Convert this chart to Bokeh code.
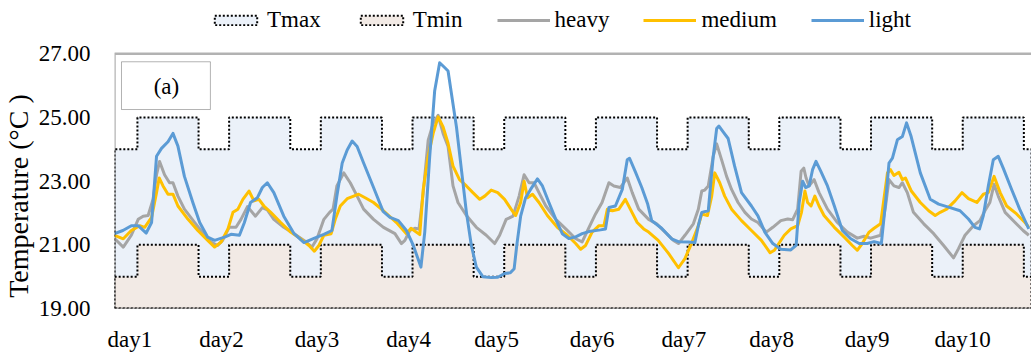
import math
from bokeh.plotting import figure
from bokeh.layouts import row
from bokeh.models import (Range1d, FixedTicker, PrintfTickFormatter, Legend,
                          BoxAnnotation, Label)
from bokeh.embed import file_html
from bokeh.resources import INLINE

# ---------------- data ----------------
day_labels = ["day1", "day2", "day3", "day4", "day5",
              "day6", "day7", "day8", "day9", "day10"]
day_label_hours = [4, 28, 53, 77, 100, 125, 149, 172, 197, 222]

# setpoint schedule (hours of day, levels)
sched_segments = [(0, 6), (6, 22), (22, 24)]
tmax_levels = [24, 25, 24]
tmin_levels = [20, 21, 20]
n_days = 10

heavy_h = [0, 2.3, 4.4, 6.2, 7.5, 8.8, 10.1, 11.0, 11.8, 13.1, 14.4, 15.3, 16.6, 18.3, 21.0, 23.6,
           25.3, 27.0, 28.3, 30.0, 31.8, 33.1, 34.8, 36.9, 38.7, 40.0, 41.7, 44.3, 47.0, 49.6,
           51.7, 53.0, 54.8, 56.3, 57.2, 58.2, 60.0, 61.7, 63.5, 65.2, 67.8, 70.4, 73.4, 75.1,
           76.0, 77.3, 78.6, 79.7, 80.8, 82.1, 83.4, 84.7, 86.0, 87.3, 88.6, 89.9, 92.1, 94.7,
           97.3, 99.5, 100.8, 102.5, 104.3, 105.9, 107.2, 108.5, 109.8, 111.1, 112.9, 115.5,
           118.1, 120.7, 122.4, 124.2, 125.9, 127.6, 129.4, 130.7, 132.4, 134.2, 135.5, 137.2,
           139.8, 141.9, 144.1, 146.3, 147.6, 149.3, 151.5, 152.8, 153.7, 154.5, 155.4, 156.7,
           157.6, 158.9, 160.2, 161.5, 163.2, 165.0, 166.7, 168.4, 170.6, 172.3, 174.4, 176.2,
           177.5, 178.8, 179.7, 180.4, 181.0, 181.8, 183.1, 184.4, 186.6, 189.2, 191.8, 194.4,
           196.2, 197.9, 200.5, 201.8, 202.7, 204.0, 205.3, 206.2, 207.5, 209.1, 211.8, 214.4,
           217.0, 219.6, 220.9, 222.6, 224.8, 226.5, 227.8, 229.1, 230.2, 231.3, 233.1, 235.7,
           237.8, 239.3]
heavy_t = [21.2, 20.93, 21.3, 21.8, 21.9, 21.92, 22.43, 23.2, 23.62, 23.2, 22.95, 22.95, 22.53,
           22.12, 21.7, 21.3, 21.09, 20.98, 21.14, 21.55, 21.55, 21.8, 22.2, 21.9, 22.17, 22.1,
           21.8, 21.55, 21.35, 21.14, 20.93, 21.19, 21.8, 22.02, 22.12, 22.85, 23.26, 22.95,
           22.53, 22.12, 21.8, 21.55, 21.35, 21.04, 21.14, 21.45, 21.52, 21.5, 22.64, 24.29,
           24.81, 25.07, 24.5, 24.09, 22.85, 22.33, 21.92, 21.55, 21.3, 21.04, 21.3, 21.8, 21.9,
           22.53, 23.2, 22.95, 22.95, 22.64, 22.22, 21.8, 21.5, 21.19, 21.09, 21.55, 21.97,
           22.33, 22.95, 22.85, 22.8, 23.1, 22.64, 22.12, 21.8, 21.66, 21.4, 21.14, 21.04, 21.3,
           21.66, 22.12, 22.69, 22.72, 22.85, 23.78, 24.17, 23.67, 23.15, 22.74, 22.33, 22.02,
           21.81, 21.7, 21.4, 21.55, 21.76, 21.81, 21.79, 22.12, 23.31, 23.41, 23.1, 22.85,
           23.05, 22.64, 22.12, 21.7, 21.4, 21.21, 21.27, 21.21, 21.3, 22.22, 23.05, 22.85,
           22.8, 22.95, 22.64, 22.02, 21.66, 21.35, 20.98, 20.59, 20.88, 21.3, 21.6, 21.76,
           22.07, 22.33, 22.9, 22.53, 22.02, 21.7, 21.45, 21.3]

medium_h = [0, 2.3, 4.4, 6.6, 7.9, 9.7, 11.0, 11.7, 12.7, 14.0, 15.3, 16.6, 19.2, 21.8, 24.4,
            26.2, 27.9, 29.7, 31.0, 32.3, 33.6, 35.2, 36.5, 37.8, 39.1, 40.9, 43.5, 46.1, 48.7,
            50.9, 52.3, 53.5, 54.8, 56.7, 57.8, 59.1, 60.9, 62.6, 63.9, 65.6, 67.8, 70.4, 73.8,
            76.4, 77.6, 79.9, 80.8, 82.1, 83.4, 84.7, 86.0, 87.3, 88.6, 90.3, 92.1, 93.8, 95.6,
            96.9, 98.6, 100.3, 102.1, 103.8, 105.0, 106.3, 107.2, 108.1, 109.4, 111.1, 113.3,
            115.9, 118.5, 120.7, 122.0, 123.3, 125.0, 126.8, 128.1, 129.0, 130.3, 132.0, 133.7,
            135.0, 136.8, 138.5, 139.8, 142.3, 145.0, 147.6, 149.3, 151.0, 152.8, 153.7, 155.2,
            156.3, 157.1, 158.4, 159.7, 161.5, 164.1, 166.7, 169.3, 171.6, 172.7, 175.3, 177.0,
            178.8, 179.8, 180.7, 181.4, 182.3, 183.3, 184.4, 185.7, 188.4, 191.0, 193.1, 194.4,
            195.7, 197.5, 198.8, 200.5, 202.3, 203.1, 204.0, 205.3, 206.2, 207.0, 208.5, 210.9,
            213.1, 214.8, 216.1, 217.8, 220.0, 221.8, 223.5, 225.7, 227.4, 228.7, 230.2, 231.8,
            233.5, 236.1, 238.3, 239.3]
medium_t = [21.3, 21.19, 21.45, 21.6, 21.55, 21.86, 22.64, 23.1, 22.85, 22.59, 22.59, 22.22,
            21.81, 21.45, 21.14, 20.93, 21.09, 21.5, 22.02, 22.12, 22.43, 22.69, 22.38, 22.43,
            22.22, 22.02, 21.7, 21.4, 21.19, 20.98, 20.8, 20.98, 21.3, 21.35, 21.81, 22.22,
            22.45, 22.53, 22.59, 22.48, 22.33, 22.07, 21.7, 21.35, 21.52, 21.32, 22.74, 23.78,
            24.5, 25.02, 24.7, 24.19, 23.47, 23.05, 22.85, 22.64, 22.43, 22.53, 22.72, 22.64,
            22.43, 22.12, 21.92, 22.33, 23.0, 22.48, 22.59, 22.33, 21.92, 21.55, 21.3, 21.04,
            20.86, 20.98, 21.4, 21.6, 21.6, 22.12, 22.07, 22.12, 22.43, 22.12, 21.7, 21.5, 21.4,
            21.14, 20.73, 20.28, 20.57, 21.04, 21.6, 21.97, 21.92, 22.53, 23.26, 22.95, 22.53,
            22.12, 21.76, 21.45, 21.14, 20.75, 20.83, 21.3, 21.5, 21.6, 22.02, 22.69, 22.33,
            22.22, 22.53, 22.22, 21.92, 21.55, 21.24, 20.98, 20.83, 21.04, 21.4, 21.52, 21.66,
            23.26, 23.36, 23.18, 23.28, 23.05, 23.1, 22.7, 22.33, 22.07, 21.92, 22.02, 22.12,
            22.38, 22.64, 22.45, 22.33, 22.59, 22.64, 23.15, 22.64, 22.22, 21.97, 21.7, 21.55]

light_h = [0, 2.2, 4.4, 6.2, 8.3, 9.7, 11.0, 12.3, 14.0, 15.3, 16.6, 18.3, 20.5, 22.3, 24.4,
           26.2, 28.8, 30.5, 32.7, 34.0, 35.6, 37.4, 38.7, 40.0, 41.7, 44.3, 47.0, 49.6, 52.2,
           54.8, 56.9, 58.2, 59.6, 60.9, 62.2, 63.5, 65.2, 67.8, 70.3, 72.1, 74.3, 76.4, 78.2,
           80.2, 81.2, 82.5, 83.8, 85.1, 86.4, 87.3, 88.2, 89.5, 90.8, 92.1, 93.4, 94.7, 96.4,
           98.6, 100.3, 102.1, 103.6, 104.6, 105.3, 106.3, 107.6, 108.9, 110.7, 112.0, 113.7,
           115.5, 117.2, 118.9, 120.7, 122.4, 124.6, 127.2, 128.5, 129.4, 131.1, 132.9, 134.2,
           134.8, 136.3, 138.0, 139.5, 140.6, 143.2, 145.8, 147.6, 150.2, 151.9, 152.8, 153.7,
           155.4, 156.7, 157.6, 158.2, 159.3, 160.6, 162.3, 164.1, 166.7, 168.4, 170.2, 172.3,
           174.4, 177.0, 178.4, 179.2, 180.1, 180.9, 181.8, 182.7, 183.6, 184.9, 186.6, 188.4,
           190.5, 192.7, 194.9, 197.0, 198.8, 200.7, 201.8, 202.7, 203.6, 204.9, 206.2, 207.3,
           208.5, 210.9, 213.5, 215.7, 218.7, 221.3, 223.5, 225.2, 226.4, 227.4, 228.7, 230.0,
           231.3, 232.6, 234.8, 236.9, 238.9, 239.3]
light_t = [21.35, 21.45, 21.6, 21.6, 21.37, 21.7, 23.78, 24.03, 24.24, 24.5, 24.1, 23.15, 22.33,
           21.7, 21.24, 21.14, 21.24, 21.33, 21.3, 21.7, 22.33, 22.48, 22.8, 22.95, 22.64, 21.9,
           21.35, 21.07, 21.2, 21.33, 21.45, 22.53, 23.57, 23.98, 24.26, 24.09, 23.57, 22.8,
           22.05, 21.86, 21.76, 21.45, 20.98, 20.3, 21.4, 23.78, 25.84, 26.72, 26.57, 26.46,
           25.74, 24.7, 23.36, 22.02, 20.98, 20.3, 20.0, 19.97, 19.98, 20.1, 20.12, 20.25, 21.0,
           21.9, 22.48, 22.74, 23.07, 22.85, 22.33, 21.8, 21.35, 21.2, 21.25, 21.35, 21.43,
           21.47, 21.5, 22.17, 22.22, 22.74, 23.67, 23.72, 23.3, 22.8, 22.3, 21.76, 21.52,
           21.19, 21.1, 21.09, 21.07, 21.6, 22.02, 22.07, 23.78, 24.65, 24.73, 24.55, 24.34,
           23.47, 22.64, 22.22, 21.91, 21.4, 21.04, 20.86, 20.84, 20.98, 22.33, 23.0, 22.8,
           22.85, 23.36, 23.62, 23.3, 22.85, 22.22, 21.45, 21.19, 21.04, 21.04, 21.1, 21.04,
           22.33, 23.57, 23.72, 24.3, 24.4, 24.83, 24.4, 23.26, 22.43, 22.28, 22.17, 22.07,
           21.81, 21.55, 21.5, 21.92, 22.85, 23.67, 23.78, 23.41, 22.74, 22.12, 21.6, 21.5]

y_floor = 19
y_top = 27
y_ticks = [19, 21, 23, 25, 27]
y_title = "Temperature (°C )"


def step_polygon(levels):
    xs, ys = [0], [y_floor]
    for d in range(n_days):
        for (a, b), v in zip(sched_segments, levels):
            xs += [24 * d + a, 24 * d + b]
            ys += [v, v]
    xs.append(24 * n_days)
    ys.append(y_floor)
    return xs, ys


tmax_x, tmax_y = step_polygon(tmax_levels)
tmin_x, tmin_y = step_polygon(tmin_levels)

FONT = "Liberation Serif"

# ---------- narrow figure holding the y-axis title ----------
t = figure(width=35, height=354, x_range=Range1d(0, 1), y_range=Range1d(0, 1),
           output_backend="svg", toolbar_location=None,
           min_border_left=0, min_border_right=0, min_border_top=0, min_border_bottom=0)
t.axis.visible = False
t.grid.visible = False
t.outline_line_color = None
t.background_fill_color = "white"
t.border_fill_color = "white"
t.add_layout(Label(x=0.5, y=0.365, text=y_title, angle=math.pi / 2,
                   text_align="center", text_baseline="middle", text_font=FONT,
                   text_font_size="28px", text_color="black"))

# ---------- main chart (frame extends up to the top so the legend fits inside) ----------
# 258 px for 8 degrees -> 32.25 px per degree; 54 px of headroom above 27
p = figure(width=996, height=354,
           x_range=Range1d(0, 240), y_range=Range1d(y_floor, y_top + 54 / 32.25),
           output_backend="svg", toolbar_location=None,
           min_border_left=75, min_border_right=0,
           min_border_top=0, min_border_bottom=42)
p.background_fill_color = "white"
p.border_fill_color = "white"
p.outline_line_color = None
p.xgrid.visible = False
p.ygrid.visible = False

r_tmax = p.patch(tmax_x, tmax_y, fill_color="#EBF1F9", line_color="black",
                 line_width=2, line_dash="2 2")
r_tmin = p.patch(tmin_x, tmin_y, fill_color="#F2EAE5", line_color="black",
                 line_width=2, line_dash="2 2")
r_heavy = p.line(heavy_h, heavy_t, line_color="#A5A5A5", line_width=3, line_join="round")
r_medium = p.line(medium_h, medium_t, line_color="#FFC000", line_width=3, line_join="round")
r_light = p.line(light_h, light_t, line_color="#5B9BD5", line_width=3, line_join="round")

# plot-area border (its right side lies beyond the visible range, as in the reference)
p.add_layout(BoxAnnotation(left=0, right=250, bottom=y_floor, top=y_top,
                           fill_alpha=0, line_color="black", line_width=2.5))

# axes
xa = p.xaxis[0]
xa.ticker = FixedTicker(ticks=day_label_hours)
xa.major_label_overrides = {h: lab for h, lab in zip(day_label_hours, day_labels)}
xa.major_tick_line_color = None
xa.minor_tick_line_color = None
xa.axis_line_color = None
xa.major_label_text_font = FONT
xa.major_label_text_font_size = "23px"
xa.major_label_text_color = "black"
xa.major_label_standoff = 12

ya = p.yaxis[0]
ya.ticker = FixedTicker(ticks=y_ticks)
ya.formatter = PrintfTickFormatter(format="%.2f")
ya.major_tick_line_color = None
ya.minor_tick_line_color = None
ya.axis_line_color = None
ya.major_label_text_font = FONT
ya.major_label_text_font_size = "23px"
ya.major_label_text_color = "black"
ya.major_label_standoff = 18

# (a) panel tag
p.add_layout(BoxAnnotation(left=1.83, right=25.1, bottom=25.25, top=26.75,
                           fill_color="white", fill_alpha=1.0,
                           line_color="black", line_width=1))
p.add_layout(Label(x=13.6, y=25.98, text="(a)", text_align="center",
                   text_baseline="middle", text_font=FONT,
                   text_font_size="23px", text_color="black"))

legend = Legend(items=[("Tmax", [r_tmax]), ("Tmin", [r_tmin]), ("heavy", [r_heavy]),
                       ("medium", [r_medium]), ("light", [r_light])],
                orientation="horizontal", location=(95, 275),
                label_text_font=FONT, label_text_font_size="23px",
                label_text_color="black",
                glyph_width=53, glyph_height=12, label_standoff=5, spacing=34,
                padding=4, margin=0, border_line_color=None,
                background_fill_alpha=0)
p.add_layout(legend, "center")

layout = row(t, p, spacing=0)
open("out.html", "w").write(file_html(layout, INLINE))
